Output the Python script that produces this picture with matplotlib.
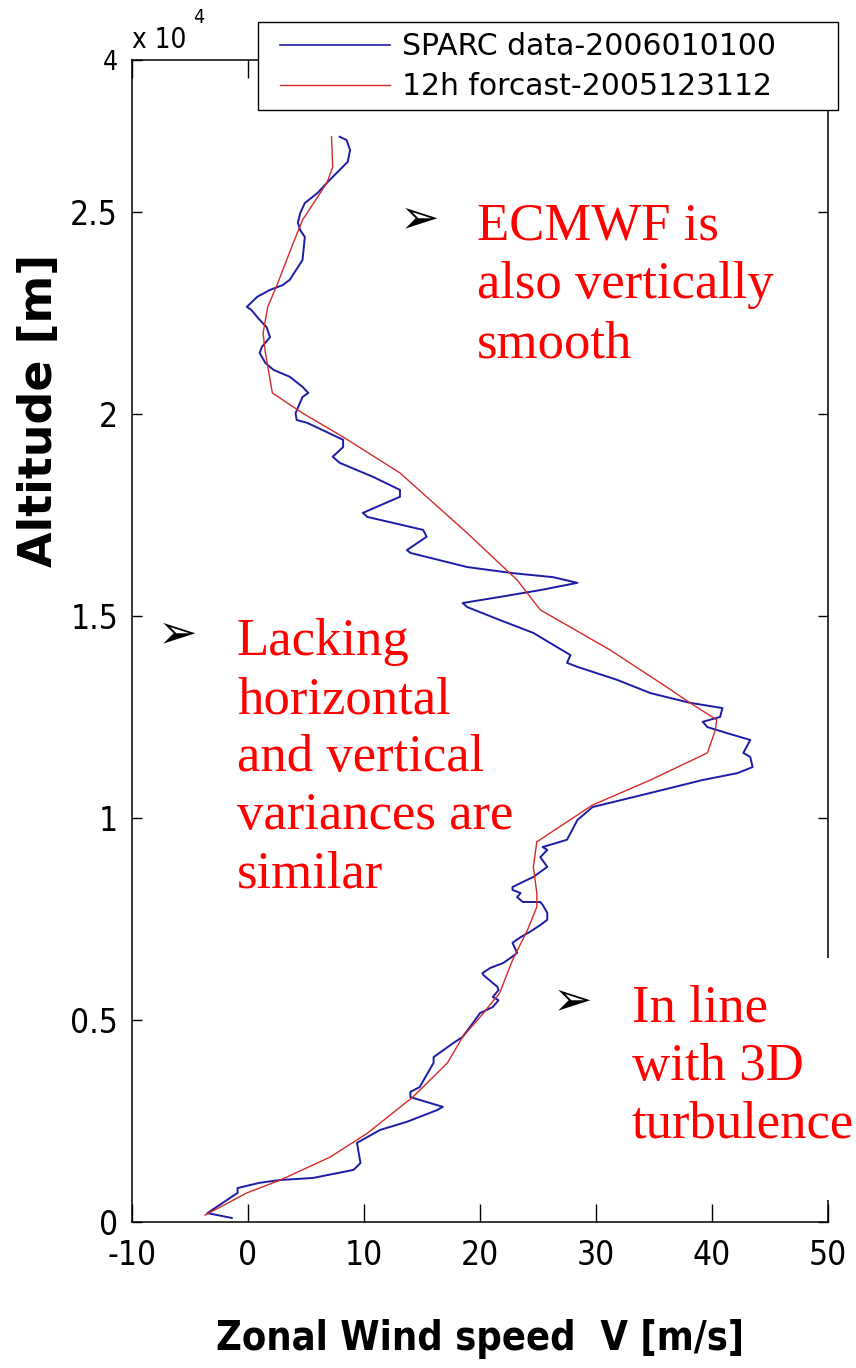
import matplotlib
matplotlib.use('Agg')
import matplotlib.pyplot as plt
from matplotlib import font_manager
from matplotlib.patches import Rectangle
from matplotlib.lines import Line2D

# SPARC radiosonde: zonal wind [m/s] vs altitude [m]
sparc_u = [-1.4, -3.5, -2.2, -0.9, -0.9, 1.0, 2.8, 5.6, 9.1, 9.7, 9.5, 9.4, 11.4, 13.7,
           16.3, 16.8, 15.7, 14.0, 14.0, 14.8, 16.0, 16.0, 17.7, 18.5, 19.4, 20.0, 21.1,
           21.6, 21.1, 21.6, 21.5, 20.3, 20.2, 20.9, 22.0, 22.6, 23.2, 22.8, 23.5, 24.3,
           25.2, 25.8, 25.8, 25.4, 25.2, 23.7, 23.2, 23.5, 22.8, 22.8, 23.5, 24.6, 25.8,
           25.2, 25.8, 25.4, 27.5, 28.4, 29.7, 34.7, 39.2, 42.2, 43.5, 43.3, 42.7, 43.3,
           41.3, 39.6, 39.2, 40.7, 40.9, 38.1, 34.7, 31.8, 28.4, 27.5, 27.8, 24.6, 21.7,
           18.9, 18.5, 21.7, 25.2, 28.4, 26.3, 22.8, 18.9, 14.0, 13.7, 15.4, 15.1, 10.3,
           9.9, 13.1, 13.1, 10.8, 7.9, 7.3, 8.2, 8.2, 5.1, 4.2, 4.1, 4.7, 5.2, 4.7, 3.6,
           2.2, 1.5, 1.0, 1.2, 1.9, 1.6, 1.0, 0.3, -0.1, 0.8, 1.9, 3.0, 3.6, 4.7, 4.9,
           4.5, 4.3, 4.5, 4.9, 6.0, 6.8, 7.9, 8.6, 8.8, 8.5, 7.9]
sparc_z = [100, 220, 470, 720, 840, 970, 1040, 1090, 1290, 1460, 1780, 1960, 2280, 2480,
           2770, 2850, 2945, 3090, 3220, 3340, 3940, 4080, 4430, 4580, 4930, 5170, 5320,
           5490, 5570, 5740, 5820, 6110, 6160, 6290, 6410, 6530, 6660, 6910, 7050, 7180,
           7350, 7480, 7650, 7850, 7920, 7920, 8040, 8140, 8220, 8290, 8390, 8540, 8790,
           9030, 9210, 9280, 9460, 9950, 10270, 10620, 10940, 11110, 11260, 11510, 11610,
           11930, 12100, 12250, 12380, 12500, 12720, 12850, 13090, 13420, 13740, 13840,
           14030, 14580, 14900, 15220, 15320, 15470, 15640, 15820, 15960, 16060, 16210,
           16560, 16630, 16960, 17130, 17450, 17550, 17950, 18120, 18440, 18790, 18940,
           19180, 19360, 19780, 19850, 20020, 20420, 20520, 20670, 20920, 21090, 21260,
           21510, 21660, 21900, 22150, 22330, 22570, 22650, 22900, 23070, 23190, 23320,
           23810, 24380, 24550, 24730, 24970, 25220, 25470, 25720, 26040, 26240, 26530,
           26780, 26860]

# ECMWF 12h forecast
fc_u = [-3.7, -0.1, 2.8, 7.1, 10.3, 14.2, 17.2, 18.5, 20.0, 21.7, 22.8, 24.1, 24.9, 24.9,
        24.6, 24.9, 29.7, 34.7, 39.6, 40.3, 40.4, 38.1, 36.1, 31.2, 25.2, 23.2, 18.9,
        13.1, 8.2, 4.7, 2.1, 1.5, 1.3, 1.7, 2.5, 3.9, 4.7, 6.8, 7.3, 7.2]
fc_z = [170, 720, 1040, 1610, 2200, 3090, 3940, 4580, 5070, 5670, 6480, 7230, 7800, 8140,
        8790, 9410, 10320, 10940, 11610, 12180, 12430, 12850, 13240, 14160, 15150, 15890,
        17050, 18540, 19430, 20020, 20520, 21510, 22000, 22650, 23190, 24230, 24800,
        25720, 26110, 26860]

x_ticks = [-10, 0, 10, 20, 30, 40, 50]
y_ticks = [0, 5000, 10000, 15000, 20000, 25000, 28760]
y_tick_labels = ['0', '0.5', '1', '1.5', '2', '2.5', '4']
series_labels = ['SPARC data-2006010100', '12h forcast-2005123112']

W, H = 856, 1368

# pick a narrow sans if one is around, the MATLAB labels look condensed
fonts = font_manager.fontManager.ttflist
names = {f.name for f in fonts}
if 'Liberation Sans Narrow' in names:
    narrow = {'family': 'Liberation Sans Narrow'}
elif any(f.name == 'DejaVu Sans' and f.stretch == 'condensed' for f in fonts):
    narrow = {'family': 'DejaVu Sans', 'stretch': 'condensed'}
else:
    narrow = {'family': 'Liberation Sans'}
serif = ['Liberation Serif', 'DejaVu Serif']

fig = plt.figure(figsize=(W / 100, H / 100), dpi=100)
ax = fig.add_axes([132 / W, 146 / H, 696 / W, 1162 / H])

blue = '#1c1ca6'
red = '#d42a2a'
ax.plot(sparc_u, sparc_z, color=blue, lw=1.4)
ax.plot(fc_u, fc_z, color=red, lw=1.0)

ax.set_xlim(-10, 50)
ax.set_ylim(0, 28760)
ax.set_xticks(x_ticks)
ax.set_xticklabels([str(v) for v in x_ticks], fontsize=24, **narrow)
ax.set_yticks(y_ticks)
ax.set_yticklabels(y_tick_labels, fontsize=24, **narrow)
ax.get_yticklabels()[-1].set_fontsize(19)
ax.tick_params(axis='x', direction='in', top=True, length=13, width=1.0, pad=12)
ax.tick_params(axis='y', direction='in', right=True, length=7, width=1.0, pad=10)
for s in ax.spines.values():
    s.set_linewidth(1.1)

# legend box drawn by hand so the padding matches, entries on top
fig.patches.append(Rectangle((258 / W, 1 - 110 / H), 580 / W, 88 / H,
                             transform=fig.transFigure, facecolor='white',
                             edgecolor='black', lw=1.0, zorder=2))
handles = [Line2D([], [], color=blue, lw=1.2), Line2D([], [], color=red, lw=1.0)]
fig.legend(handles, series_labels, loc='upper left',
           bbox_to_anchor=(280 / W, 1 - 32 / H), bbox_transform=fig.transFigure,
           borderaxespad=0, borderpad=0, frameon=False,
           prop={'family': 'DejaVu Sans', 'size': 21.5}, handlelength=3.68,
           handletextpad=0.4, labelspacing=0.38)

# exponent label
fig.text(132 / W, 1 - 48 / H, 'x 10', fontsize=20, va='baseline', **narrow)
fig.text(193 / W, 1 - 23 / H, '4', fontsize=14, va='baseline', **narrow)

# axis labels
fig.text(40 / W, 1 - 410 / H, 'Altitude [m]', family='DejaVu Sans', weight='bold',
         fontsize=33, rotation=90, ha='center', va='center')
fig.text(480 / W, 1 - 1350 / H, 'Zonal Wind speed  V [m/s]', weight='bold',
         fontsize=28.5, ha='center', va='baseline', **narrow)

# white patch over the right edge behind the lower annotation
fig.patches.append(Rectangle((610 / W, 1 - 1200 / H), 1 - 610 / W, 242 / H,
                             transform=fig.transFigure, facecolor='white',
                             edgecolor='none', zorder=2))

# annotations
notes = [
    (420, 220, 477, [(239, 'ECMWF is'), (298, 'also vertically'), (357, 'smooth')]),
    (178, 635, 237, [(655, 'Lacking'), (713, 'horizontal'), (771, 'and vertical'),
                     (829, 'variances are'), (888, 'similar')]),
    (573, 1002, 632, [(1022, 'In line'), (1080, 'with 3D'), (1138, 'turbulence')]),
]
for ax_x, ax_y, tx, lines in notes:
    fig.text(ax_x / W, 1 - ax_y / H, '\u27a2', family='DejaVu Sans', fontsize=34,
             ha='center', va='center', zorder=3)
    for by, s in lines:
        fig.text(tx / W, 1 - by / H, s, family=serif, fontsize=38, color='red',
                 va='baseline', zorder=3)

fig.savefig('out.png', dpi=100)
